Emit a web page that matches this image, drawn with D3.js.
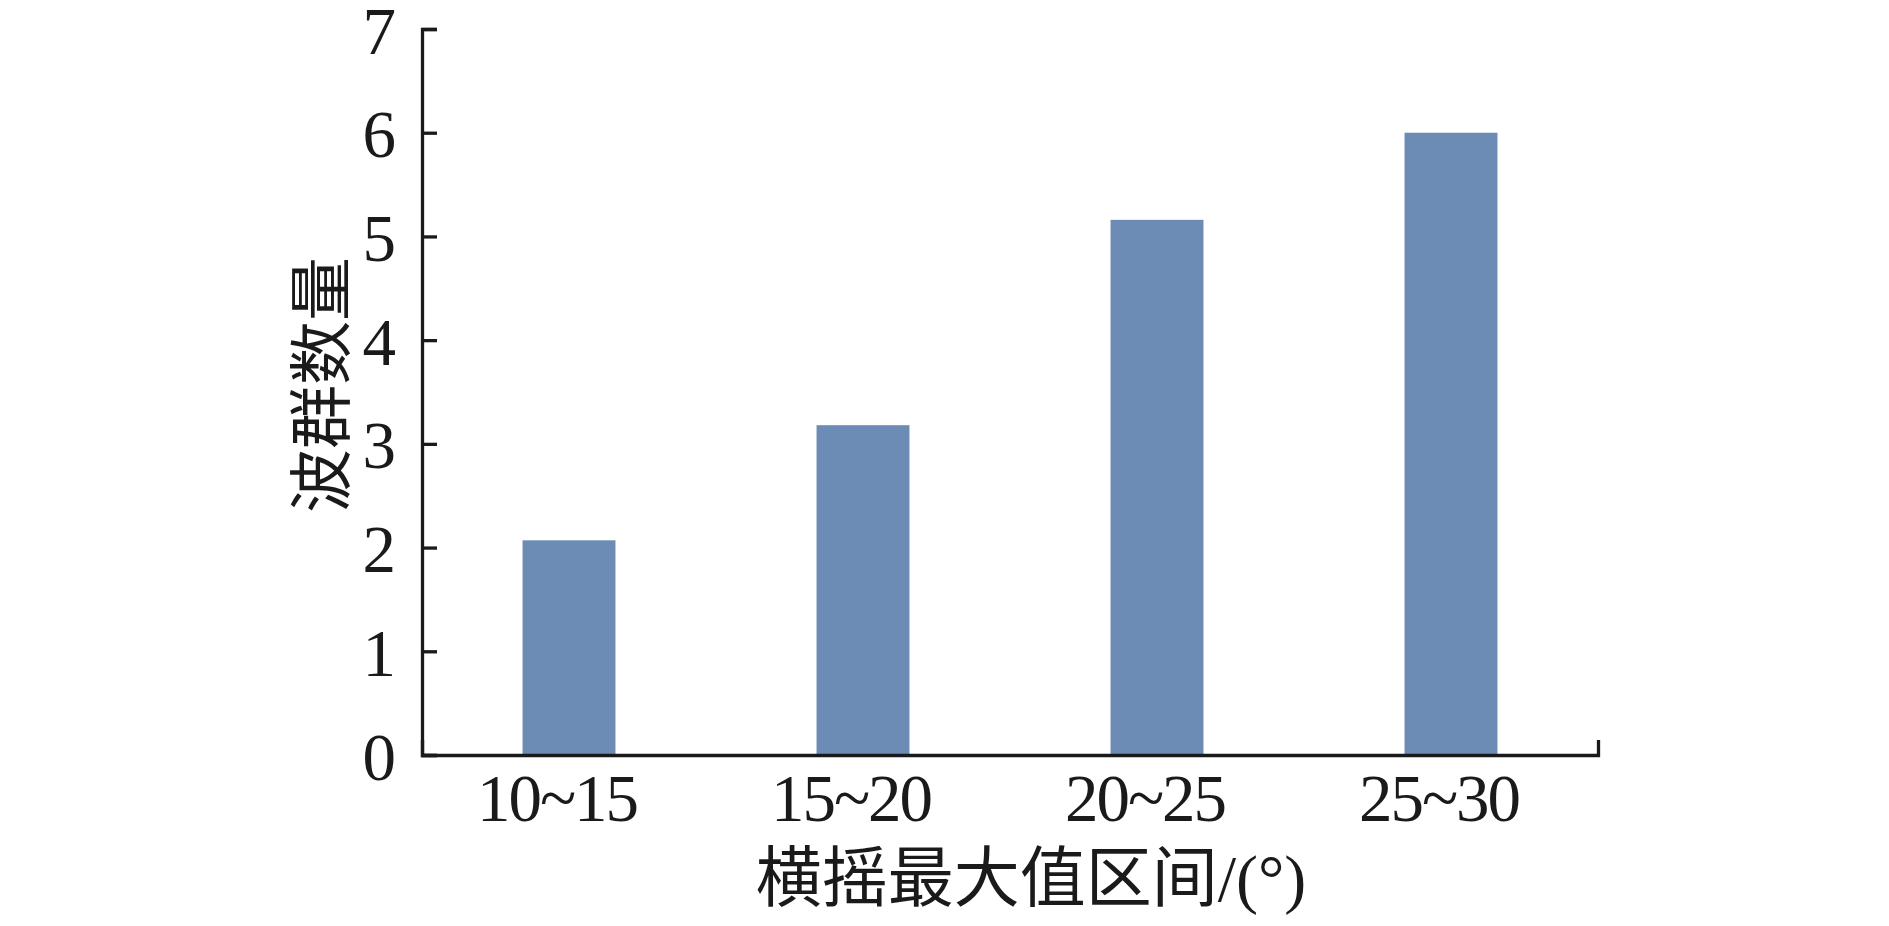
<!DOCTYPE html>
<html>
<head>
<meta charset="utf-8">
<script src="https://cdn.jsdelivr.net/npm/d3@7"></script>
<style>
  html, body { margin: 0; padding: 0; background: #fff; }
  svg { display: block; }
</style>
</head>
<body>
<div id="vis"></div>
<script>
var width = 1889,
    height = 926;

// data
var categories = ["10~15", "15~20", "20~25", "25~30"];
var counts = [2.07, 3.18, 5.16, 6.0];
var yTicks = [0, 1, 2, 3, 4, 5, 6, 7];
var xTitle = "横摇最大值区间/(°)";
var yTitle = "波群数量";

var margin = { top: 29, right: 291, bottom: 171, left: 422 };
var ink = "#1a1a1a";
var fontFamily = "'Liberation Serif', 'Times New Roman', 'Noto Sans CJK SC', serif";

var svg = d3.select("#vis").append("svg")
    .attr("width", width)
    .attr("height", height);

var x = d3.scaleBand()
    .domain(categories)
    .range([margin.left, width - margin.right])
    .paddingInner(0.684)
    .paddingOuter(0.342);

var y = d3.scaleLinear()
    .domain([0, 7])
    .range([height - margin.bottom, margin.top]);

// bars
svg.append("g")
    .selectAll("rect")
    .data(counts)
    .join("rect")
    .attr("x", function (d, i) { return x(categories[i]); })
    .attr("y", function (d) { return y(d); })
    .attr("width", x.bandwidth())
    .attr("height", function (d) { return y(0) - y(d); })
    .attr("fill", "#6c8bb5");

// y axis, ticks pointing inward
var yAxis = svg.append("g")
    .attr("transform", "translate(" + margin.left + ",0)")
    .call(d3.axisLeft(y)
        .tickValues(yTicks)
        .tickFormat(d3.format("d"))
        .tickSize(-15)
        .tickPadding(26));

// x axis, only the right end cap
var xAxis = svg.append("g")
    .attr("transform", "translate(0," + y(0) + ")")
    .call(d3.axisBottom(x)
        .tickSizeInner(0)
        .tickSizeOuter(-15)
        .tickPadding(0));

[yAxis, xAxis].forEach(function (ax) {
    ax.select(".domain").attr("stroke", ink).attr("stroke-width", 3.3);
    ax.selectAll(".tick line").attr("stroke", ink).attr("stroke-width", 3.3);
    ax.selectAll("text")
        .attr("fill", ink)
        .attr("font-family", fontFamily)
        .attr("font-size", 67);
});

yAxis.selectAll(".tick text").attr("dy", "0.36em");

xAxis.selectAll(".tick text")
    .attr("y", 66)
    .attr("dy", 0)
    .attr("dx", -12)
    .attr("letter-spacing", -2);

// axis titles
svg.append("text")
    .attr("x", 1031)
    .attr("y", 901)
    .attr("text-anchor", "middle")
    .attr("font-family", fontFamily)
    .attr("font-size", 66)
    .attr("fill", ink)
    .text(xTitle);

svg.append("text")
    .attr("transform", "translate(320,385) rotate(-90)")
    .attr("text-anchor", "middle")
    .attr("dy", "0.38em")
    .attr("font-family", fontFamily)
    .attr("font-size", 64)
    .attr("fill", ink)
    .text(yTitle);
</script>
</body>
</html>
